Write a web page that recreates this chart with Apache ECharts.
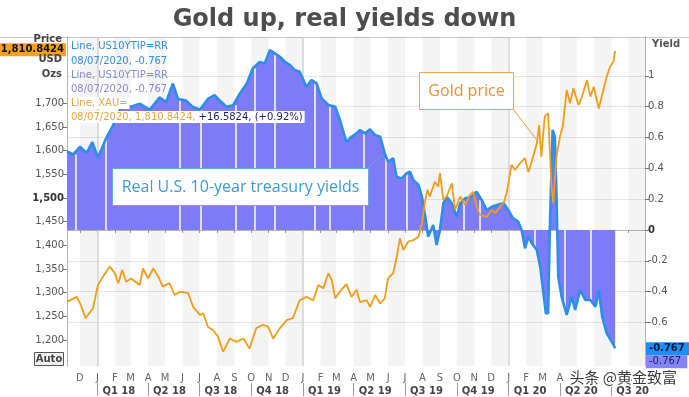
<!DOCTYPE html>
<html>
<head>
<meta charset="utf-8">
<title>Gold up, real yields down</title>
<script src="https://cdn.jsdelivr.net/npm/echarts@6/dist/echarts.min.js"></script>
<style>
  html, body { margin: 0; padding: 0; background: #fff; }
  #main { width: 689px; height: 397px; }
</style>
</head>
<body>
<div id="main"></div>
<script>
// gold spot, XAU= (USD / oz)
const goldDates = [
  '2017-11-08', '2017-11-25', '2017-12-01', '2017-12-11', '2017-12-24',
  '2018-01-02', '2018-01-11', '2018-01-23', '2018-02-01', '2018-02-07',
  '2018-02-14', '2018-02-21', '2018-03-02', '2018-03-17', '2018-03-23',
  '2018-04-01', '2018-04-10', '2018-04-19', '2018-04-27', '2018-05-09',
  '2018-05-18', '2018-05-27', '2018-06-11', '2018-06-20', '2018-07-02',
  '2018-07-08', '2018-07-16', '2018-07-25', '2018-08-03', '2018-08-12',
  '2018-08-24', '2018-09-05', '2018-09-17', '2018-09-28', '2018-10-10',
  '2018-10-22', '2018-10-31', '2018-11-09', '2018-11-21', '2018-12-03',
  '2018-12-14', '2018-12-26', '2019-01-07', '2019-01-19', '2019-01-28',
  '2019-02-06', '2019-02-15', '2019-02-21', '2019-02-27', '2019-03-07',
  '2019-03-19', '2019-03-28', '2019-04-06', '2019-04-12', '2019-04-24',
  '2019-04-30', '2019-05-09', '2019-05-18', '2019-05-26', '2019-06-01',
  '2019-06-10', '2019-06-16', '2019-06-22', '2019-06-28', '2019-07-07',
  '2019-07-16', '2019-07-25', '2019-07-31', '2019-08-06', '2019-08-10',
  '2019-08-14', '2019-08-23', '2019-08-29', '2019-09-01', '2019-09-07',
  '2019-09-13', '2019-09-22', '2019-09-28', '2019-10-07', '2019-10-16',
  '2019-10-24', '2019-10-30', '2019-11-05', '2019-11-11', '2019-11-23',
  '2019-12-02', '2019-12-08', '2019-12-17', '2019-12-23', '2019-12-29',
  '2020-01-06', '2020-01-12', '2020-01-21', '2020-01-30', '2020-02-05',
  '2020-02-11', '2020-02-20', '2020-02-24', '2020-02-28', '2020-03-05',
  '2020-03-11', '2020-03-17', '2020-03-20', '2020-03-26', '2020-04-01',
  '2020-04-06', '2020-04-13', '2020-04-19', '2020-04-25', '2020-05-04',
  '2020-05-10', '2020-05-19', '2020-05-25', '2020-05-31', '2020-06-09',
  '2020-06-17', '2020-06-23', '2020-06-29', '2020-07-05', '2020-07-08'
];
const goldValues = [
  1281, 1291, 1278, 1246, 1267,
  1316, 1334, 1355, 1341, 1320,
  1348, 1323, 1330, 1316, 1351,
  1330, 1351, 1334, 1313, 1320,
  1295, 1302, 1299, 1270, 1253,
  1256, 1228, 1221, 1207, 1175,
  1203, 1196, 1203, 1182, 1225,
  1232, 1228, 1203, 1225, 1242,
  1246, 1284, 1291, 1284, 1316,
  1309, 1341, 1327, 1288, 1302,
  1318, 1291, 1306, 1280, 1284,
  1270, 1295, 1277, 1288, 1330,
  1341, 1373, 1415, 1390, 1408,
  1411, 1418, 1446, 1496, 1517,
  1503, 1534, 1524, 1553, 1496,
  1503, 1531, 1475, 1503, 1485,
  1506, 1513, 1482, 1464, 1460,
  1475, 1468, 1482, 1489, 1513,
  1570, 1559, 1573, 1584, 1555,
  1577, 1615, 1654, 1587, 1672,
  1679, 1524, 1489, 1587, 1629,
  1651, 1728, 1700, 1732, 1696,
  1714, 1749, 1714, 1735, 1689,
  1728, 1756, 1777, 1788, 1810.8424
];

// real 10-year treasury yield, US10YTIP=RR (%)
const yieldDates = [
  '2017-11-08', '2017-11-19', '2017-12-01', '2017-12-13', '2017-12-23',
  '2018-01-02', '2018-01-17', '2018-01-29', '2018-02-10', '2018-02-18',
  '2018-03-02', '2018-03-17', '2018-04-04', '2018-04-21', '2018-05-03',
  '2018-05-15', '2018-05-24', '2018-06-07', '2018-06-19', '2018-07-02',
  '2018-07-16', '2018-07-28', '2018-08-09', '2018-08-18', '2018-08-30',
  '2018-09-11', '2018-09-23', '2018-10-04', '2018-10-16', '2018-10-25',
  '2018-11-03', '2018-11-12', '2018-11-21', '2018-11-30', '2018-12-09',
  '2018-12-17', '2018-12-26', '2019-01-07', '2019-01-16', '2019-01-25',
  '2019-02-03', '2019-02-15', '2019-02-27', '2019-03-07', '2019-03-19',
  '2019-03-28', '2019-04-06', '2019-04-12', '2019-04-21', '2019-04-30',
  '2019-05-09', '2019-05-18', '2019-05-26', '2019-06-01', '2019-06-10',
  '2019-06-16', '2019-06-25', '2019-07-04', '2019-07-10', '2019-07-16',
  '2019-07-25', '2019-07-31', '2019-08-06', '2019-08-08', '2019-08-11',
  '2019-08-20', '2019-08-26', '2019-09-01', '2019-09-07', '2019-09-13',
  '2019-09-22', '2019-10-01', '2019-10-07', '2019-10-16', '2019-10-27',
  '2019-11-05', '2019-11-14', '2019-11-23', '2019-12-02', '2019-12-11',
  '2019-12-23', '2019-12-31', '2020-01-09', '2020-01-18', '2020-01-24',
  '2020-01-30', '2020-02-05', '2020-02-11', '2020-02-20', '2020-02-26',
  '2020-03-02', '2020-03-07', '2020-03-11', '2020-03-14', '2020-03-19',
  '2020-03-23', '2020-03-26', '2020-03-29', '2020-04-04', '2020-04-13',
  '2020-04-22', '2020-04-28', '2020-05-07', '2020-05-16', '2020-05-25',
  '2020-06-03', '2020-06-09', '2020-06-15', '2020-06-23', '2020-07-02',
  '2020-07-08'
];
const yieldValues = [
  0.51, 0.49, 0.54, 0.50, 0.57,
  0.47, 0.60, 0.68, 0.78, 0.81,
  0.80, 0.82, 0.78, 0.86, 0.83,
  0.95, 0.85, 0.84, 0.80, 0.78,
  0.85, 0.875, 0.83, 0.80, 0.81,
  0.886, 0.95, 1.05, 1.09, 1.08,
  1.167, 1.146, 1.124, 1.09, 1.07,
  1.038, 1.027, 0.929, 0.973, 0.951,
  0.854, 0.811, 0.80, 0.72, 0.57,
  0.605, 0.627, 0.649, 0.627, 0.653,
  0.616, 0.605, 0.497, 0.443, 0.465,
  0.346, 0.335, 0.368, 0.378, 0.324,
  0.292, 0.216, 0.086, 0.097, -0.043,
  0.032, -0.097, 0.0, 0.173, 0.216,
  0.173, 0.086, 0.173, 0.206, 0.216,
  0.248, 0.195, 0.13, 0.151, 0.162,
  0.173, 0.13, 0.076, 0.054, 0.0,
  -0.119, -0.043, -0.086, -0.13, -0.238,
  -0.389, -0.54, -0.54, 0.0, 0.65,
  0.605, 0.216, -0.303, -0.432, -0.551,
  -0.432, -0.519, -0.389, -0.454, -0.454,
  -0.497, -0.389, -0.562, -0.67, -0.724,
  -0.767
];

// bond market holidays: gaps in the yield area
const holidays = [
  '2017-11-23', '2018-01-15', '2018-05-28', '2018-07-04', '2018-09-03',
  '2018-10-08', '2018-11-12', '2019-01-21', '2019-02-18', '2019-04-19',
  '2019-05-27', '2019-07-04', '2019-10-14', '2019-11-11', '2020-02-17',
  '2020-04-10', '2020-05-25'
];

const priceTicks = [1200, 1250, 1300, 1350, 1400, 1450, 1500, 1550, 1600, 1650, 1700];
const yieldTicks = [-0.6, -0.4, -0.2, 0, 0.2, 0.4, 0.6, 0.8, 1];

const FONT = '"DejaVu Sans", Verdana, sans-serif';
const MONTH_LETTERS = 'JFMAMJJASOND';
const CLEAR = 'rgba(0,0,0,0)';

function ts(s) {
  const p = s.split('-');
  return +new Date(+p[0], +p[1] - 1, +p[2]);
}

const xMin = ts('2017-11-08');
const xMax = ts('2020-08-30');

const goldData = goldDates.map((d, i) => [ts(d), goldValues[i]]);
const yieldData = yieldDates.map((d, i) => [ts(d), yieldValues[i]]);
const lastGold = goldValues[goldValues.length - 1];
const lastYield = yieldValues[yieldValues.length - 1];

// month / quarter starts for the date axis
const monthStarts = [];
for (let y = 2017, m = 11; y < 2020 || m <= 7; m++) {
  if (m > 11) { m = 0; y++; }
  monthStarts.push(+new Date(y, m, 1));
}
const quarterStarts = monthStarts.filter(t => new Date(t).getMonth() % 3 === 0);
const yearStarts = monthStarts.filter(t => new Date(t).getMonth() === 0);

// every other month shaded, starting with Dec 2017
const monthBands = [];
for (let i = 0; i < monthStarts.length; i += 2) {
  const end = i + 1 < monthStarts.length ? monthStarts[i + 1] : xMax;
  monthBands.push([{ xAxis: monthStarts[i] }, { xAxis: end }]);
}

// white gap lines from 0 up to the nearest yield reading
const holidayLines = holidays.map(h => {
  const t = ts(h);
  let best = 0;
  yieldData.forEach((p, i) => {
    if (Math.abs(p[0] - t) < Math.abs(yieldData[best][0] - t)) best = i;
  });
  return [
    { coord: [t, 0], lineStyle: { color: '#fff', width: 1.5, type: 'solid' }, label: { show: false } },
    { coord: [t, yieldValues[best]] }
  ];
});

const chart = echarts.init(document.getElementById('main'), null, { renderer: 'canvas' });

const legendFont = '10px ' + FONT;

// price tag drawn at the axis edge
function tag(value, text, pos, bg, color, bold, dy) {
  return {
    yAxis: value,
    lineStyle: { color: CLEAR, width: 0 },
    label: {
      show: true,
      position: pos,
      distance: 1,
      offset: [0, dy],
      formatter: text,
      backgroundColor: bg,
      color: color,
      fontWeight: bold ? 'bold' : 'normal',
      fontSize: 10,
      fontFamily: FONT,
      padding: pos === 'end' ? [2, 6, 1, 3] : [2, 2, 1, 3]
    }
  };
}

const option = {
  animation: false,
  backgroundColor: '#fff',
  textStyle: { fontFamily: FONT },
  title: {
    text: 'Gold up, real yields down',
    left: 'center',
    top: 3,
    textStyle: { fontFamily: FONT, fontWeight: 'bold', fontSize: 24, color: '#4d4d4d' }
  },
  grid: { left: 67, right: 44, top: 37, bottom: 31, containLabel: false },
  xAxis: [
    {
      type: 'value',
      min: xMin,
      max: xMax,
      axisLine: { show: true, lineStyle: { color: '#b5b5b5' } },
      axisTick: { show: true, customValues: monthStarts, length: 3, lineStyle: { color: '#999' } },
      axisLabel: {
        customValues: monthStarts,
        formatter: v => MONTH_LETTERS[new Date(v).getMonth()],
        color: '#666',
        fontSize: 10,
        fontFamily: FONT,
        margin: 7,
        hideOverlap: false
      },
      splitLine: { show: false }
    },
    {
      type: 'value',
      min: xMin,
      max: xMax,
      position: 'bottom',
      offset: 17,
      axisLine: { show: false },
      axisTick: { show: true, customValues: quarterStarts, length: 13, lineStyle: { color: '#999' } },
      axisLabel: {
        customValues: quarterStarts,
        formatter: v => {
          const d = new Date(v);
          return 'Q' + (Math.floor(d.getMonth() / 3) + 1) + ' ' + String(d.getFullYear()).slice(2);
        },
        align: 'left',
        padding: [0, 0, 0, 5],
        color: '#444',
        fontWeight: 'bold',
        fontSize: 10,
        fontFamily: FONT,
        margin: 3,
        hideOverlap: false
      },
      splitLine: { show: false }
    }
  ],
  yAxis: [
    {
      type: 'value',
      position: 'left',
      min: 1145,
      max: 1840,
      axisLine: { show: true, lineStyle: { color: '#b5b5b5' } },
      axisTick: { show: true, customValues: priceTicks, length: 4, lineStyle: { color: '#777' } },
      axisLabel: {
        customValues: priceTicks,
        margin: 3,
        fontSize: 10,
        fontFamily: FONT,
        color: '#555',
        formatter: v => v === 1500 ? '{b|1,500}' : v.toLocaleString('en-US'),
        rich: { b: { fontWeight: 'bold', fontSize: 10, fontFamily: FONT, color: '#333' } }
      },
      splitLine: { show: false }
    },
    {
      type: 'value',
      position: 'right',
      min: -0.882,
      max: 1.252,
      axisLine: { show: true, lineStyle: { color: '#b5b5b5' } },
      axisTick: { show: true, customValues: yieldTicks, length: 4, lineStyle: { color: '#777' } },
      axisLabel: {
        customValues: yieldTicks,
        margin: 3,
        fontSize: 10,
        fontFamily: FONT,
        color: '#555',
        formatter: v => v === 0 ? '{b|0}' : String(+v.toFixed(1)),
        rich: { b: { fontWeight: 'bold', fontSize: 10, fontFamily: FONT, color: '#333' } }
      },
      splitLine: { show: true, lineStyle: { color: '#e6e6e6', width: 1 } }
    }
  ],
  series: [
    {
      // month shading and year lines, no visible line
      type: 'line',
      xAxisIndex: 0,
      yAxisIndex: 0,
      data: goldData,
      silent: true,
      showSymbol: false,
      lineStyle: { color: CLEAR, width: 0 },
      z: 1,
      markArea: {
        silent: true,
        z: 1,
        itemStyle: { color: 'rgba(0,0,0,0.045)' },
        data: monthBands
      },
      markLine: {
        silent: true,
        symbol: 'none',
        z: 1,
        label: { show: false },
        lineStyle: { color: '#d2d2d2', type: 'solid', width: 1.5 },
        data: yearStarts.map(t => ({ xAxis: t }))
      }
    },
    {
      name: 'US10YTIP=RR area',
      type: 'line',
      xAxisIndex: 0,
      yAxisIndex: 1,
      data: yieldData,
      showSymbol: false,
      lineStyle: { width: 0 },
      areaStyle: { color: '#7d7cf6', opacity: 1, origin: 'auto' },
      z: 2,
      markLine: {
        silent: true,
        symbol: 'none',
        z: 3,
        data: holidayLines.concat([
          tag(lastYield, String(lastYield), 'end', '#8585fb', '#1c1c55', false, 13)
        ])
      }
    },
    {
      name: 'US10YTIP=RR',
      type: 'line',
      xAxisIndex: 0,
      yAxisIndex: 1,
      data: yieldData,
      showSymbol: false,
      lineStyle: { color: '#2d8ee8', width: 2.6 },
      z: 4,
      markLine: {
        silent: true,
        symbol: 'none',
        z: 10,
        data: [tag(lastYield, String(lastYield), 'end', '#1f8ef7', '#0b1a3a', true, 0)]
      }
    },
    {
      name: 'XAU=',
      type: 'line',
      xAxisIndex: 0,
      yAxisIndex: 0,
      data: goldData,
      showSymbol: false,
      lineStyle: { color: '#f29c17', width: 1.8 },
      z: 5,
      markLine: {
        silent: true,
        symbol: 'none',
        z: 10,
        data: [tag(lastGold, lastGold.toLocaleString('en-US', { minimumFractionDigits: 4 }), 'start', '#f7a11a', '#111', true, -1)]
      }
    }
  ],
  graphic: [
    // divider under the title
    { type: 'line', z: 0, shape: { x1: 0, y1: 37.5, x2: 689, y2: 37.5 }, style: { stroke: '#c8c8c8', lineWidth: 1 } },
    // left axis heading
    { type: 'text', z: 50, x: 62, y: 39, style: { text: 'Price', font: 'bold 10px ' + FONT, fill: '#444', align: 'right', verticalAlign: 'middle' } },
    { type: 'text', z: 50, x: 62, y: 59, style: { text: 'USD', font: 'bold 10px ' + FONT, fill: '#444', align: 'right', verticalAlign: 'middle' } },
    { type: 'text', z: 50, x: 62, y: 74, style: { text: 'Ozs', font: 'bold 10px ' + FONT, fill: '#444', align: 'right', verticalAlign: 'middle' } },
    // right axis heading
    { type: 'text', z: 50, x: 652, y: 44, style: { text: 'Yield', font: 'bold 10px ' + FONT, fill: '#555', align: 'left', verticalAlign: 'middle' } },
    // Auto button
    { type: 'rect', z: 50, shape: { x: 34.5, y: 352.5, width: 29, height: 13 }, style: { fill: '#f2f2f2', stroke: '#555', lineWidth: 1 } },
    { type: 'text', z: 51, x: 49, y: 359.5, style: { text: 'Auto', font: 'bold 10px ' + FONT, fill: '#444', align: 'center', verticalAlign: 'middle' } },
    // in-chart legend block
    { type: 'text', z: 60, x: 71, y: 46, style: { text: 'Line, US10YTIP=RR', font: legendFont, fill: '#2f8fdf', verticalAlign: 'middle' } },
    { type: 'text', z: 60, x: 71, y: 61, style: { text: '08/07/2020, -0.767', font: legendFont, fill: '#2f8fdf', verticalAlign: 'middle' } },
    { type: 'text', z: 60, x: 71, y: 75.5, style: { text: 'Line, US10YTIP=RR', font: legendFont, fill: '#8c89d2', verticalAlign: 'middle' } },
    { type: 'text', z: 60, x: 71, y: 89.5, style: { text: '08/07/2020, -0.767', font: legendFont, fill: '#8c89d2', verticalAlign: 'middle' } },
    { type: 'text', z: 60, x: 71, y: 103, style: { text: 'Line, XAU=', font: legendFont, fill: '#e9a440', verticalAlign: 'middle', backgroundColor: '#fff', padding: [1, 2, 1, 0] } },
    {
      type: 'text', z: 60, x: 71, y: 117,
      style: {
        text: '{o|08/07/2020, 1,810.8424, }{n|+16.5824, (+0.92%)}',
        font: legendFont,
        verticalAlign: 'middle',
        backgroundColor: '#fff',
        padding: [1, 2, 1, 0],
        rich: {
          o: { fill: '#e9a440', font: legendFont },
          n: { fill: '#1c1c6e', font: legendFont }
        }
      }
    },
    // annotation: real yields
    { type: 'line', z: 60, shape: { x1: 368, y1: 168, x2: 383, y2: 154 }, style: { stroke: '#5aaee0', lineWidth: 1 } },
    { type: 'rect', z: 60, shape: { x: 112.5, y: 168.5, width: 256, height: 37 }, style: { fill: '#fff', stroke: '#5aaee0', lineWidth: 1 } },
    { type: 'text', z: 61, x: 240.5, y: 187, style: { text: 'Real U.S. 10-year treasury yields', font: '16px "Open Sans", sans-serif', fill: '#3a9bd8', align: 'center', verticalAlign: 'middle' } },
    // annotation: gold
    { type: 'line', z: 60, shape: { x1: 513, y1: 109, x2: 536, y2: 139 }, style: { stroke: '#e89a4a', lineWidth: 1 } },
    { type: 'rect', z: 60, shape: { x: 419.5, y: 72.5, width: 94, height: 37 }, style: { fill: '#fff', stroke: '#eea350', lineWidth: 1 } },
    { type: 'text', z: 61, x: 466.5, y: 91, style: { text: 'Gold price', font: '16px "Open Sans", sans-serif', fill: '#e8913a', align: 'center', verticalAlign: 'middle' } },
    // watermark
    { type: 'text', z: 70, x: 677, y: 377, style: { text: '头条 @黄金致富', font: '15px "Noto Sans CJK SC", sans-serif', fill: '#3a3a3a', stroke: '#fff', lineWidth: 3, align: 'right', verticalAlign: 'middle' } }
  ]
};

chart.setOption(option);
</script>
</body>
</html>
